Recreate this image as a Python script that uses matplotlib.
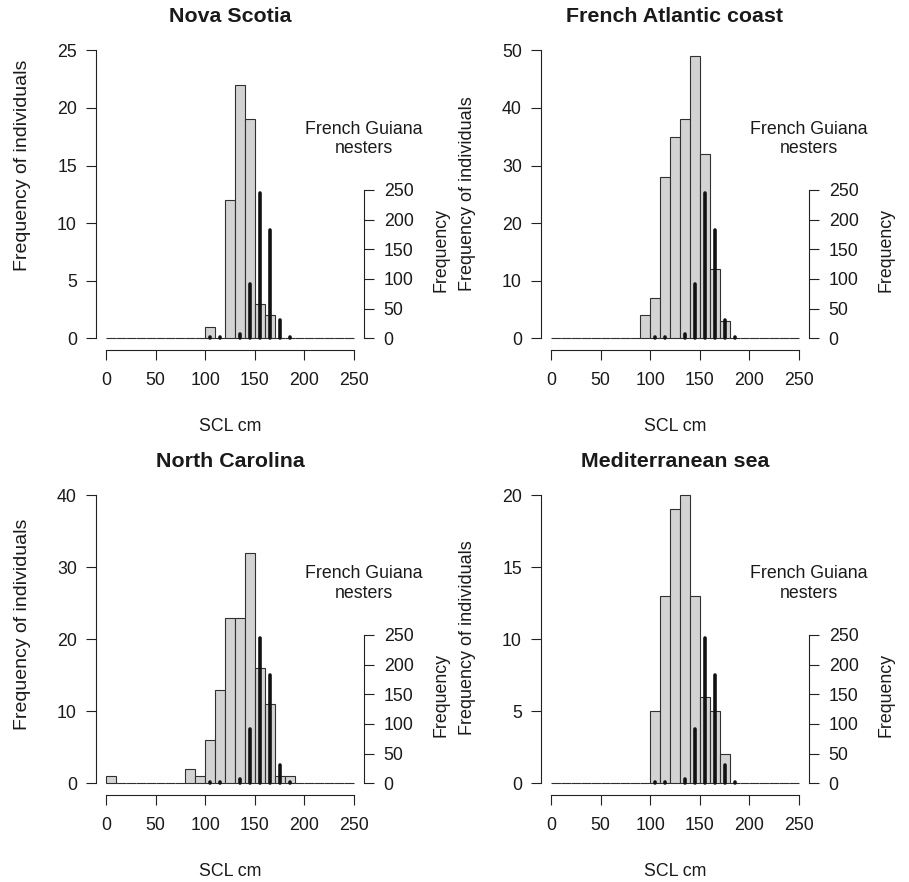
import matplotlib
matplotlib.use("Agg")
import matplotlib.pyplot as plt
import numpy as np

plt.rcParams['font.family'] = ['Liberation Sans', 'DejaVu Sans']

# ---- data ----
bin_edges_left = [0, 10, 20, 30, 40, 50, 60, 70, 80, 90, 100, 110, 120, 130, 140,
                  150, 160, 170, 180, 190, 200, 210, 220, 230, 240]
titles = ["Nova Scotia", "French Atlantic coast", "North Carolina", "Mediterranean sea"]
counts_nova_scotia = [0, 0, 0, 0, 0, 0, 0, 0, 0, 0, 1, 0, 12, 22, 19, 3, 2, 0, 0, 0, 0, 0, 0, 0, 0]
counts_french_atlantic = [0, 0, 0, 0, 0, 0, 0, 0, 0, 4, 7, 28, 35, 38, 49, 32, 12, 3, 0, 0, 0, 0, 0, 0, 0]
counts_north_carolina = [1, 0, 0, 0, 0, 0, 0, 0, 2, 1, 6, 13, 23, 23, 32, 16, 11, 1, 1, 0, 0, 0, 0, 0, 0]
counts_mediterranean = [0, 0, 0, 0, 0, 0, 0, 0, 0, 0, 5, 13, 19, 20, 13, 6, 5, 2, 0, 0, 0, 0, 0, 0, 0]
y_max = [25, 50, 40, 20]
y_step = [5, 10, 10, 5]
nesters_scl = [105, 115, 135, 145, 155, 165, 175, 185]
nesters_freq = [2, 2, 8, 91, 245, 182, 30, 2]
x_ticks = [0, 50, 100, 150, 200, 250]
nest_ticks = [0, 50, 100, 150, 200, 250]

all_counts = [counts_nova_scotia, counts_french_atlantic, counts_north_carolina, counts_mediterranean]

W, H = 909, 882
fig = plt.figure(figsize=(W / 100, H / 100), dpi=100)

cols = [(96, 364), (541, 809)]
rows = [(38.8, 349.8), (483.5, 794.8)]
# vertical centres (px) of the y labels, per panel
ylab_cy = [165, 194, 624, 638]
ylab_fs = [14.0, 13.0, 14.0, 13.0]
sec_cy = [250, 250, 695, 695]

FS = 12.8
TXT = '#1a1a1a'
AX = '#222222'

def add_px_axes(l, r, t, b):
    return fig.add_axes([l / W, 1 - b / H, (r - l) / W, (b - t) / H])

for i in range(4):
    ci, ri = i % 2, i // 2
    l, r = cols[ci]
    t, b = rows[ri]
    ax = add_px_axes(l, r, t, b)
    ym = y_max[i]
    ax.bar(bin_edges_left, all_counts[i], width=10, align='edge',
           color='#d3d3d3', edgecolor='#303030', linewidth=0.8, zorder=2)
    ax.set_xlim(-10, 260)
    ax.set_ylim(-0.04 * ym, 1.04 * ym)
    for s in ['top', 'right']:
        ax.spines[s].set_visible(False)
    ax.spines['left'].set_bounds(0, ym)
    ax.spines['bottom'].set_bounds(0, 250)
    for s in ['left', 'bottom']:
        ax.spines[s].set_color(AX)
        ax.spines[s].set_linewidth(0.8)
    ax.set_xticks(x_ticks)
    ax.set_yticks(list(range(0, ym + 1, y_step[i])))
    ax.tick_params(axis='both', length=7.2, width=0.8, color=AX, labelsize=FS, labelcolor=TXT)
    ax.tick_params(axis='x', pad=9.0)
    ax.tick_params(axis='y', pad=6.5)
    ax.patch.set_visible(False)

    ax2 = ax.twinx()
    ax2.set_ylim(-19.4, 504.9)
    lc = ax2.vlines(nesters_scl, 0, nesters_freq, colors='#111111', linewidth=2.6)
    lc.set_capstyle('round')
    for s in ['top', 'left', 'bottom']:
        ax2.spines[s].set_visible(False)
    ax2.spines['right'].set_bounds(0, 250)
    ax2.spines['right'].set_color(AX)
    ax2.spines['right'].set_linewidth(0.8)
    ax2.set_yticks(nest_ticks)
    ax2.tick_params(axis='y', length=7.2, width=0.8, color=AX, labelsize=FS, labelcolor=TXT, pad=7)

    ax.text(260, 0.678, "French Guiana\nnesters", transform=ax.get_xaxis_transform(),
            ha='center', va='center', fontsize=FS, color=TXT, linespacing=1.2, clip_on=False)

    cx = (l + r) / 2
    fig.text(cx / W, 1 - (t - 22) / H, titles[i], ha='center', va='center',
             fontsize=15.4, fontweight='bold', color=TXT)
    fig.text(cx / W, 1 - (b + 77) / H, "SCL cm", ha='center', va='center',
             fontsize=FS, color=TXT)
    fig.text((l - 73) / W, 1 - ylab_cy[i] / H, "Frequency of individuals", rotation=90,
             ha='center', va='center', fontsize=ylab_fs[i], color=TXT)
    fig.text((r + 77) / W, 1 - sec_cy[i] / H, "Frequency", rotation=90,
             ha='center', va='center', fontsize=FS, color=TXT)

fig.savefig("out.png", dpi=100)
